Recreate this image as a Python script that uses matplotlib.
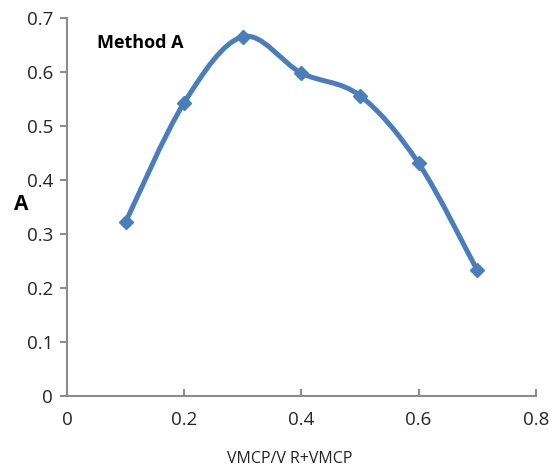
import numpy as np
import matplotlib
matplotlib.use("Agg")
import matplotlib.pyplot as plt
from matplotlib.path import Path
from matplotlib.patches import PathPatch

x_vals = [0.1, 0.2, 0.3, 0.4, 0.5, 0.6, 0.7]
y_vals = [0.322, 0.543, 0.665, 0.598, 0.556, 0.431, 0.233]
x_ticks = [0, 0.2, 0.4, 0.6, 0.8]
x_ticklabels = ["0", "0.2", "0.4", "0.6", "0.8"]
y_ticks = [0, 0.1, 0.2, 0.3, 0.4, 0.5, 0.6, 0.7]
y_ticklabels = ["0", "0.1", "0.2", "0.3", "0.4", "0.5", "0.6", "0.7"]

plt.rcParams['font.family'] = ['Open Sans', 'DejaVu Sans']
fig = plt.figure(figsize=(5.53, 4.70), dpi=100)
ax = fig.add_axes([0.121, 0.157, 0.848, 0.805])

color = '#4A7EBB'
# Excel-like smoothed line (Catmull-Rom as cubic Bezier)
px = np.array(x_vals); py = np.array(y_vals)
n = len(px)
verts = [(px[0], py[0])]
codes = [Path.MOVETO]
for i in range(n - 1):
    p0 = (px[max(i-1, 0)], py[max(i-1, 0)])
    p1 = (px[i], py[i]); p2 = (px[i+1], py[i+1])
    p3 = (px[min(i+2, n-1)], py[min(i+2, n-1)])
    c1 = (p1[0] + (p2[0]-p0[0])/6, p1[1] + (p2[1]-p0[1])/6)
    c2 = (p2[0] - (p3[0]-p1[0])/6, p2[1] - (p3[1]-p1[1])/6)
    verts += [c1, c2, p2]
    codes += [Path.CURVE4]*3
ax.add_patch(PathPatch(Path(verts, codes), facecolor='none', edgecolor=color,
                       lw=3.6, capstyle='round', joinstyle='round', zorder=2))
ax.plot(x_vals, y_vals, linestyle='none', marker='D', markersize=7.5,
        color=color, zorder=3)

ax.set_xlim(0, 0.8)
ax.set_ylim(0, 0.7)
ax.set_xticks(x_ticks)
ax.set_xticklabels(x_ticklabels)
ax.set_yticks(y_ticks)
ax.set_yticklabels(y_ticklabels)
for s in ['top', 'right']:
    ax.spines[s].set_visible(False)
for s in ['left', 'bottom']:
    ax.spines[s].set_color('#8C8C8C')
    ax.spines[s].set_linewidth(1.5)
ax.tick_params(axis='x', direction='in', length=5, width=1.5, color='#8C8C8C',
               labelsize=13.5, labelcolor='#262626', pad=11)
ax.tick_params(axis='y', direction='out', length=5, width=1.5, color='#8C8C8C',
               labelsize=13.5, labelcolor='#262626', pad=5)

ax.text(0.051, 0.645, 'Method A', fontsize=13, fontweight='bold', color='black')
fig.text(0.038, 0.565, 'A', fontsize=15, fontweight='bold', color='black',
         ha='center', va='center')
fig.text(0.524, 0.024, 'VMCP/V R+VMCP', fontsize=11.5, color='#222222',
         ha='center', va='center')

fig.savefig('out.png', dpi=100)
